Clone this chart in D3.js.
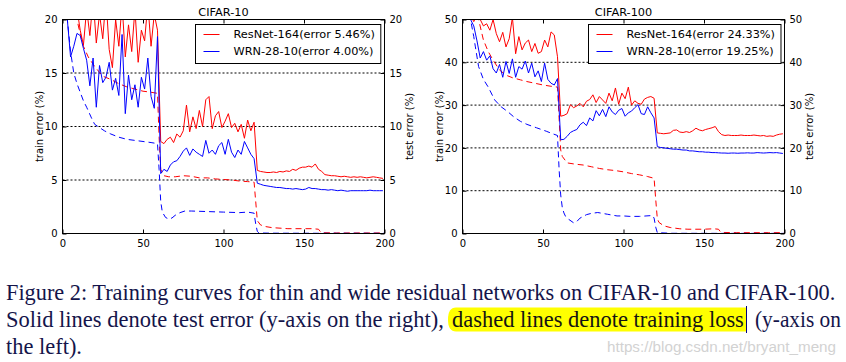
<!DOCTYPE html>
<html>
<head>
<meta charset="utf-8">
<script src="https://cdn.jsdelivr.net/npm/d3@7"></script>
<style>
  body { margin: 0; background: #fff; }
  svg { display: block; }
  .tick text { font-family: "DejaVu Sans", sans-serif; font-size: 10px; fill: #000; }
  .tick line { stroke: #000; }
</style>
</head>
<body>
<svg id="figure" width="846" height="362"></svg>
<script>
// ---- data -------------------------------------------------------------
// test error is logged every other epoch, training loss at irregular epochs
const solidEpochs = d3.range(1, 200, 2);
const xTicks = [0, 50, 100, 150, 200];
const c10Ticks = [0, 5, 10, 15, 20];
const c100Ticks = [0, 10, 20, 30, 40, 50];

// CIFAR-10, test error (%)
const c10ResTest = [
  26, 24, 22, 20.5, 21, 19, 17.6, 21, 18.5, 22, 17.8, 20.5, 18.2, 22, 17.2, 15.5, 20, 17.5, 21.5, 16.5,
  19.5, 17, 21, 16, 19, 18, 21.5, 17.5, 20.5, 19,
  8.6, 8.4, 8.8, 9.0, 8.5, 9.3, 9.0, 9.6, 12.0, 9.5, 10.9, 9.8, 11.5, 10.0, 12.5, 12.8, 9.8, 11.0, 11.4, 9.9,
  10.5, 11.2, 9.9, 10.3, 9.5, 10.2, 8.9, 10.6, 9.6, 10.4,
  5.9, 5.8, 5.75, 5.7, 5.7, 5.75, 5.7, 5.8, 5.75, 5.85, 5.8, 6.0, 5.9, 6.1, 6.2, 6.2, 6.3, 6.2, 6.5, 6.0,
  5.8, 5.5, 5.45, 5.4, 5.4, 5.35, 5.3, 5.35, 5.3, 5.25, 5.3, 5.25, 5.3, 5.25, 5.2, 5.25, 5.3, 5.25, 5.2, 5.15
];
const c10WrnTest = [
  23, 20, 16.5, 17.5, 18.7, 18.5, 17.3, 16.2, 13.8, 16.4, 11.8, 15.7, 14.1, 14.6, 16.0, 13.4, 14.5, 12.9, 18.6, 11.2,
  14.8, 12.5, 13.9, 11.8, 14.6, 13.5, 16.4, 12.8, 11.7, 18.4,
  5.6, 6.0, 5.8, 6.4, 6.7, 6.8, 7.2, 7.7, 8.0, 7.3, 7.9, 7.6, 7.4, 7.2, 8.7, 7.5, 7.8, 7.4, 8.2, 8.5,
  7.4, 8.8, 7.6, 7.1, 7.8, 7.4, 8.6, 8.0, 7.4, 7.0,
  4.7, 4.6, 4.5, 4.45, 4.4, 4.35, 4.3, 4.3, 4.25, 4.2, 4.2, 4.15, 4.2, 4.15, 4.1, 4.15, 4.3, 4.2, 4.2, 4.15,
  4.1, 4.1, 4.05, 4.1, 4.05, 4.0, 4.05, 4.0, 3.95, 4.0, 4.0, 4.0, 4.0, 4.0, 4.0, 4.05, 4.0, 4.0, 4.0, 4.0
];

// CIFAR-10, training loss
const c10ResTrainEpochs = [1, 4, 7, 10, 13, 16, 20, 25, 30, 35, 40, 45, 50, 55, 59, 60, 61, 63, 66, 70, 75, 80, 85, 90, 95,
  100, 105, 110, 115, 119, 120, 121, 123, 126, 130, 140, 150, 155, 159, 160, 161, 170, 180, 190, 200];
const c10ResTrain = [26, 23.5, 21.5, 19.3, 17.5, 16.5, 15.6, 14.7, 14.4, 14.0, 13.7, 13.5, 13.3, 13.2, 13.1, 9, 6, 5.4, 5.3, 5.3, 5.4, 5.35, 5.2, 5.2, 5.1,
  5.05, 5.0, 4.9, 4.85, 4.8, 3, 1.2, 0.8, 0.65, 0.55, 0.45, 0.45, 0.45, 0.4, 0.2, 0.08, 0.05, 0.05, 0.05, 0.05];
const c10WrnTrainEpochs = [1, 3, 5, 7, 9, 11, 13, 15, 18, 20, 23, 26, 30, 35, 40, 45, 50, 55, 59, 60, 61, 62, 64, 66, 68,
  70, 73, 76, 80, 90, 100, 110, 115, 119, 120, 121, 122, 130, 160, 200];
const c10WrnTrain = [24, 20, 17, 15, 14, 13.2, 12.4, 11.8, 10.8, 10.2, 9.9, 9.6, 9.3, 9.0, 8.8, 8.7, 8.6, 8.5, 8.4, 6, 3, 2, 1.5, 1.35, 1.45,
  1.7, 1.95, 2.1, 2.1, 2.05, 2.0, 1.95, 2.0, 1.9, 0.9, 0.2, 0.05, 0.03, 0.02, 0.02];

// CIFAR-100, test error (%)
const c100ResTest = [
  58, 55, 51, 49.5, 51, 50, 48.5, 49, 47.5, 50, 46.7, 44.8, 47.0, 43.6, 45.5, 50.5, 42.0, 46.0, 42.9, 44.5,
  45.2, 42.5, 44.4, 42.1, 42.5, 45.2, 43.6, 47.1, 46.4, 41.3,
  27.4, 27.6, 28.0, 30.1, 29.4, 29.8, 30.4, 29.6, 30.9, 31.3, 32.4, 30.6, 32.0, 31.2, 30.4, 32.8, 31.0, 34.0, 30.2, 32.8,
  31.5, 34.2, 30.0, 31.0, 30.4, 30.2, 31.4, 31.8, 32.0, 31.6,
  23.5, 23.4, 23.3, 23.4, 23.5, 24.1, 24.2, 23.7, 23.6, 23.8, 23.6, 24.0, 24.6, 24.2, 24.0, 24.3, 24.5, 24.7, 25.0, 23.8,
  23.1, 22.9, 23.0, 22.9, 22.9, 22.9, 23.0, 22.9, 22.9, 22.9, 23.0, 22.9, 22.8, 22.9, 22.7, 22.8, 22.7, 23.0, 23.2, 23.3
];
const c100WrnTest = [
  56, 52, 50, 48.5, 45, 41, 42.5, 40.5, 41.5, 38.5, 37.5, 39.5, 36.5, 40.2, 37.4, 40.8, 36.5, 39, 38.4, 40.3,
  37.5, 39.8, 36.6, 38.0, 35.5, 39.8, 36.0, 35.1, 34.7, 36.2,
  21.9, 22.0, 22.7, 23.6, 24.0, 24.3, 25.4, 26.0, 25.2, 27.0, 26.3, 28.7, 27.5, 29.0, 27.3, 29.6, 28.4, 27.8, 28.8, 29.2,
  27.4, 28.2, 28.6, 29.4, 30.1, 28.0, 27.8, 29.6, 28.2, 27.0,
  20.3, 20.1, 20.0, 19.9, 19.8, 19.7, 19.7, 19.6, 19.5, 19.5, 19.3, 19.3, 19.2, 19.1, 19.1, 19.0, 19.0, 18.9, 18.9, 18.85,
  18.8, 18.8, 18.75, 18.8, 18.8, 18.75, 18.8, 18.8, 18.85, 18.8, 18.8, 18.9, 18.85, 18.8, 18.85, 18.9, 18.85, 18.9, 18.8, 18.7
];

// CIFAR-100, training loss
const c100ResTrainEpochs = [5, 8, 10, 13, 16, 19, 23, 27, 31, 36, 40, 45, 50, 55, 59, 60, 61, 62, 65, 70, 75, 80, 85, 90, 95,
  100, 105, 110, 115, 119, 120, 121, 122, 125, 129, 135, 140, 150, 156, 159, 160, 161, 170, 180, 190, 200];
const c100ResTrain = [58, 53, 50, 45.2, 42.5, 40.5, 38.2, 37.0, 36.4, 35.9, 35.5, 35.1, 34.7, 34.4, 34.2, 27, 19.5, 18, 16.5, 16.2, 16.0, 15.6, 15.2, 14.9, 14.7,
  14.4, 14.0, 13.7, 13.3, 12.9, 8, 3.5, 2.6, 1.8, 1.4, 1.1, 1.0, 1.0, 1.1, 1.0, 0.5, 0.25, 0.2, 0.2, 0.2, 0.2];
const c100WrnTrainEpochs = [3, 5, 7, 8, 10, 13, 16, 20, 24, 28, 32, 36, 40, 46, 52, 56, 59, 60, 61, 62, 63, 64, 66, 69, 71,
  73, 77, 80, 84, 90, 96, 100, 104, 110, 114, 118, 119, 120, 121, 130, 160, 200];
const c100WrnTrain = [56, 50, 46, 43.6, 39, 36, 34.2, 31.2, 29.6, 28.5, 27.2, 26.2, 25.5, 24.7, 23.9, 23.3, 22.9, 15, 9, 6, 4.8, 4, 3.3, 2.5, 2.8,
  3.6, 4.4, 4.7, 4.9, 4.5, 4.1, 4.1, 4.0, 4.0, 4.1, 4.2, 3.6, 1.5, 0.2, 0.05, 0.03, 0.03];

const captionLines = [
  'Figure 2: Training curves for thin and wide residual networks on CIFAR-10 and CIFAR-100.',
  'Solid lines denote test error (y-axis on the right),',
  'dashed lines denote training loss',
  '(y-axis on',
  'the left).'
];

// ---- chart ------------------------------------------------------------
class TrainingCurves {

  constructor(_config, series) {
    this.config = {
      parentElement: _config.parentElement,
      id: _config.id,
      left: _config.left,
      top: _config.top,
      width: _config.width || 322,
      height: _config.height || 214,
      title: _config.title,
      yMax: _config.yMax,
      yTicks: _config.yTicks,
      legend: _config.legend
    };
    this.series = series;
    this.initVis();
  }

  initVis() {
    let vis = this;
    let w = vis.config.width, h = vis.config.height;

    vis.chart = d3.select(vis.config.parentElement).append('g')
        .attr('transform', `translate(${vis.config.left},${vis.config.top})`);

    vis.xScale = d3.scaleLinear().domain([0, 200]).range([0, w]);
    vis.yScale = d3.scaleLinear().domain([0, vis.config.yMax]).range([h, 0]);

    vis.chart.append('clipPath')
        .attr('id', `clip-${vis.config.id}`)
      .append('rect')
        .attr('width', w)
        .attr('height', h);

    // dotted horizontal grid at the inner ticks
    vis.chart.append('g').selectAll('line')
        .data(vis.config.yTicks.filter(d => d > 0 && d < vis.config.yMax))
      .join('line')
        .attr('x1', 0)
        .attr('x2', w)
        .attr('y1', d => vis.yScale(d))
        .attr('y2', d => vis.yScale(d))
        .attr('stroke', '#000')
        .attr('stroke-dasharray', '2,2');

    vis.lineGenerator = d3.line()
      .x(d => vis.xScale(d[0]))
      .y(d => vis.yScale(d[1]));

    vis.linesG = vis.chart.append('g').attr('clip-path', `url(#clip-${vis.config.id})`);

    // axes, ticks point inwards on all four sides
    vis.chart.append('g')
        .attr('transform', `translate(0,${h})`)
        .call(d3.axisBottom(vis.xScale).tickValues(xTicks).tickSize(-4).tickPadding(6))
        .call(g => g.select('.domain').remove());
    vis.chart.append('g')
        .call(d3.axisTop(vis.xScale).tickValues(xTicks).tickSize(-4).tickFormat(''))
        .call(g => g.select('.domain').remove());
    vis.chart.append('g')
        .call(d3.axisLeft(vis.yScale).tickValues(vis.config.yTicks).tickSize(-4).tickPadding(5))
        .call(g => g.select('.domain').remove());
    vis.chart.append('g')
        .attr('transform', `translate(${w},0)`)
        .call(d3.axisRight(vis.yScale).tickValues(vis.config.yTicks).tickSize(-4).tickPadding(5))
        .call(g => g.select('.domain').remove());

    vis.chart.append('rect')
        .attr('width', w)
        .attr('height', h)
        .attr('fill', 'none')
        .attr('stroke', '#000');

    vis.chart.append('text')
        .attr('x', w / 2)
        .attr('y', -4)
        .attr('text-anchor', 'middle')
        .style('font-family', '"DejaVu Sans", sans-serif')
        .style('font-size', '11.3px')
        .text(vis.config.title);

    vis.chart.append('text')
        .attr('transform', `translate(-23,${h / 2}) rotate(-90)`)
        .attr('text-anchor', 'middle')
        .attr('dy', '0.35em')
        .style('font-family', '"DejaVu Sans", sans-serif')
        .style('font-size', '10px')
        .text('train error (%)');

    vis.chart.append('text')
        .attr('transform', `translate(${w + 25},${h / 2}) rotate(-90)`)
        .attr('text-anchor', 'middle')
        .attr('dy', '0.35em')
        .style('font-family', '"DejaVu Sans", sans-serif')
        .style('font-size', '10px')
        .text('test error (%)');

    vis.updateVis();
  }

  updateVis() {
    let vis = this;

    vis.linesG.selectAll('path')
        .data(vis.series)
      .join('path')
        .attr('d', d => vis.lineGenerator(d3.zip(d.epochs, d.values)))
        .attr('fill', 'none')
        .attr('stroke', d => d.color)
        .attr('stroke-width', 1)
        .attr('stroke-dasharray', d => d.dashed ? '6,4' : null);

    // legend box, upper right
    let legend = vis.chart.append('g');
    let items = legend.selectAll('g')
        .data(vis.config.legend)
      .join('g')
        .attr('transform', (d, i) => `translate(0,${10 + i * 17})`);
    items.append('line')
        .attr('x1', 8)
        .attr('x2', 24)
        .attr('stroke', d => d.color);
    items.append('text')
        .attr('x', 38)
        .attr('dy', '0.35em')
        .style('font-family', '"DejaVu Sans", sans-serif')
        .style('font-size', '11.3px')
        .text(d => d.label);

    let textW = d3.max(items.selectAll('text').nodes(), n => n.getComputedTextLength());
    let boxW = 38 + textW + 6;
    legend.insert('rect', ':first-child')
        .attr('width', boxW)
        .attr('height', 39)
        .attr('fill', '#fff')
        .attr('stroke', '#000');
    legend.attr('transform', `translate(${Math.round(vis.config.width - 4 - boxW)},5)`);
  }
}

const svg = d3.select('#figure');

new TrainingCurves({
  parentElement: '#figure', id: 'c10', left: 62.5, top: 19.5,
  title: 'CIFAR-10', yMax: 20, yTicks: c10Ticks,
  legend: [
    { label: 'ResNet-164(error 5.46%)', color: '#ff0000' },
    { label: 'WRN-28-10(error 4.00%)', color: '#0000ff' }
  ]
}, [
  { epochs: c10ResTrainEpochs, values: c10ResTrain, color: '#ff0000', dashed: true },
  { epochs: c10WrnTrainEpochs, values: c10WrnTrain, color: '#0000ff', dashed: true },
  { epochs: solidEpochs, values: c10ResTest, color: '#ff0000' },
  { epochs: solidEpochs, values: c10WrnTest, color: '#0000ff' }
]);

new TrainingCurves({
  parentElement: '#figure', id: 'c100', left: 462.5, top: 19.5,
  title: 'CIFAR-100', yMax: 50, yTicks: c100Ticks,
  legend: [
    { label: 'ResNet-164(error 24.33%)', color: '#ff0000' },
    { label: 'WRN-28-10(error 19.25%)', color: '#0000ff' }
  ]
}, [
  { epochs: c100ResTrainEpochs, values: c100ResTrain, color: '#ff0000', dashed: true },
  { epochs: c100WrnTrainEpochs, values: c100WrnTrain, color: '#0000ff', dashed: true },
  { epochs: solidEpochs, values: c100ResTest, color: '#ff0000' },
  { epochs: solidEpochs, values: c100WrnTest, color: '#0000ff' }
]);

// ---- caption ------------------------------------------------------------
const cap = svg.append('g')
    .style('font-family', '"Liberation Serif", "Times New Roman", serif')
    .style('font-size', '24px')
    .attr('fill', '#14144a');

// yellow highlight with a rounded left end, and the text cursor
cap.append('path')
    .attr('d', 'M746,307.5 H456 Q448,307.5 448,319.5 Q448,331.5 456,331.5 H746 Z')
    .attr('fill', '#ffff00');
cap.append('line')
    .attr('x1', 746.5).attr('x2', 746.5)
    .attr('y1', 306).attr('y2', 333)
    .attr('stroke', '#000080');

// each line is squeezed horizontally to the width it has in the figure
const capLayout = [
  { x: 6, y: 300, len: 830 },
  { x: 6, y: 327, len: 438 },
  { x: 452, y: 327, len: 292 },
  { x: 755, y: 327, len: 86 },
  { x: 6, y: 354, len: 76 }
];
cap.selectAll('text')
    .data(captionLines)
  .join('text')
    .attr('fill', (d, i) => i === 2 ? '#141414' : null)
    .text(d => d)
    .attr('transform', function(d, i) {
      let natural = this.getComputedTextLength();
      let p = capLayout[i];
      return `translate(${p.x},${p.y}) scale(${p.len / natural},1)`;
    });

svg.append('text')
    .attr('x', 607)
    .attr('y', 352)
    .attr('textLength', 229)
    .attr('lengthAdjust', 'spacingAndGlyphs')
    .style('font-family', '"Liberation Sans", Arial, sans-serif')
    .style('font-size', '14px')
    .attr('fill', '#d2d2d2')
    .text('https://blog.csdn.net/bryant_meng');
</script>
</body>
</html>
